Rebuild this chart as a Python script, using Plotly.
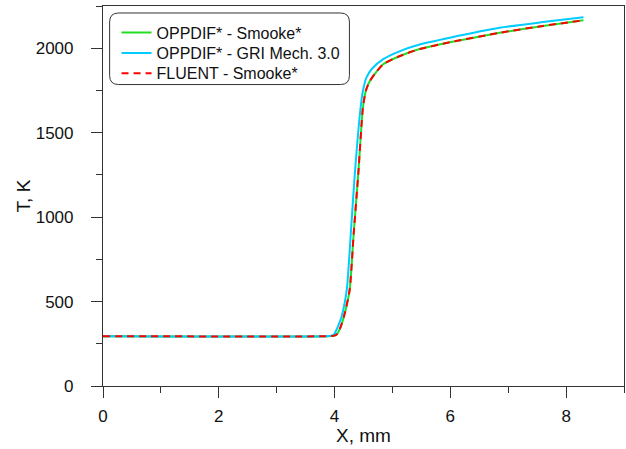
import plotly.graph_objects as go

# Data
x_smooke = [0.0, 3.9, 4.0, 4.05, 4.1, 4.16, 4.26, 4.33, 4.41, 4.49, 4.54, 4.6, 4.7, 4.84, 5.13, 5.47, 5.99, 6.85, 7.6, 8.3]
t_smooke = [295, 295, 298, 310, 345, 409, 567, 900, 1257, 1649, 1747, 1800, 1850, 1905, 1954, 1995, 2035, 2091, 2132, 2165]

x_gri = [0.0, 3.85, 3.95, 4.0, 4.05, 4.12, 4.21, 4.28, 4.35, 4.45, 4.49, 4.55, 4.65, 4.84, 5.13, 5.47, 5.99, 6.85, 7.6, 8.3]
t_gri = [295, 295, 298, 310, 345, 409, 567, 900, 1257, 1649, 1747, 1826, 1880, 1935, 1983, 2022, 2062, 2121, 2155, 2184]

x_fluent = x_smooke
t_fluent = t_smooke

names = ["OPPDIF* - Smooke*", "OPPDIF* - GRI Mech. 3.0", "FLUENT - Smooke*"]
x_ticks = [0, 2, 4, 6, 8]
y_ticks = [0, 500, 1000, 1500, 2000]

FONT = "Arial, Liberation Sans, sans-serif"

fig = go.Figure()
fig.add_trace(go.Scatter(x=x_smooke, y=t_smooke, mode="lines", name=names[0], legend="legend",
                         line=dict(color="#22DD22", width=2, shape="spline", smoothing=0.6)))
fig.add_trace(go.Scatter(x=x_gri, y=t_gri, mode="lines", name=names[1], legend="legend2",
                         line=dict(color="#00CCFF", width=2, shape="spline", smoothing=0.6)))
fig.add_trace(go.Scatter(x=x_fluent, y=t_fluent, mode="lines", name=names[2], legend="legend3",
                         line=dict(color="#FF0000", width=2, dash="7px,5px", shape="spline", smoothing=0.6)))

# rounded legend frame (paper coords)
x0, x1, y0, y1 = 0.0127, 0.473, 0.7933, 0.9816
rx, ry = 9 / 521.0, 9 / 380.0
path = (f"M {x0+rx},{y0} L {x1-rx},{y0} Q {x1},{y0} {x1},{y0+ry} "
        f"L {x1},{y1-ry} Q {x1},{y1} {x1-rx},{y1} L {x0+rx},{y1} "
        f"Q {x0},{y1} {x0},{y1-ry} L {x0},{y0+ry} Q {x0},{y0} {x0+rx},{y0} Z")
fig.add_shape(type="path", path=path, xref="paper", yref="paper",
              line=dict(color="#333333", width=1), fillcolor="rgba(0,0,0,0)", layer="above")

axis_common = dict(
    showgrid=False, zeroline=False, showline=True, linecolor="#333333", linewidth=1.2,
    mirror=True, ticks="outside", ticklen=11, tickcolor="#333333", tickwidth=1.2,
    tickfont=dict(family=FONT, size=17, color="#111111"),
)

legend_common = dict(x=0.026, xanchor="left", yanchor="middle",
                     bgcolor="rgba(0,0,0,0)", borderwidth=0,
                     font=dict(family=FONT, size=16, color="#111111"),
                     tracegroupgap=0, itemwidth=30)

fig.update_layout(
    width=626, height=449,
    margin=dict(l=103, r=2, t=6, b=63),
    paper_bgcolor="white", plot_bgcolor="white",
    font=dict(family=FONT, color="#111111"),
    xaxis=dict(range=[0, 9], tickvals=x_ticks, ticktext=[str(v) for v in x_ticks],
               minor=dict(dtick=1, ticks="outside", ticklen=6, tickcolor="#333333", tickwidth=1.2),
               title=dict(text="X, mm", font=dict(family=FONT, size=19), standoff=0),
               ticklabelstandoff=3,
               **axis_common),
    yaxis=dict(range=[0, 2250], tickvals=y_ticks, ticktext=[str(v) for v in y_ticks],
               minor=dict(dtick=250, ticks="outside", ticklen=6, tickcolor="#333333", tickwidth=1.2),
               title=dict(text="T, K", font=dict(family=FONT, size=19), standoff=0),
               ticklabelstandoff=14,
               **axis_common),
    showlegend=True,
    legend=dict(y=0.930, **legend_common),
    legend2=dict(y=0.876, **legend_common),
    legend3=dict(y=0.823, **legend_common),
)

fig.write_html("out.html", post_script="document.body.style.margin='0';",
               config={"displayModeBar": False})
